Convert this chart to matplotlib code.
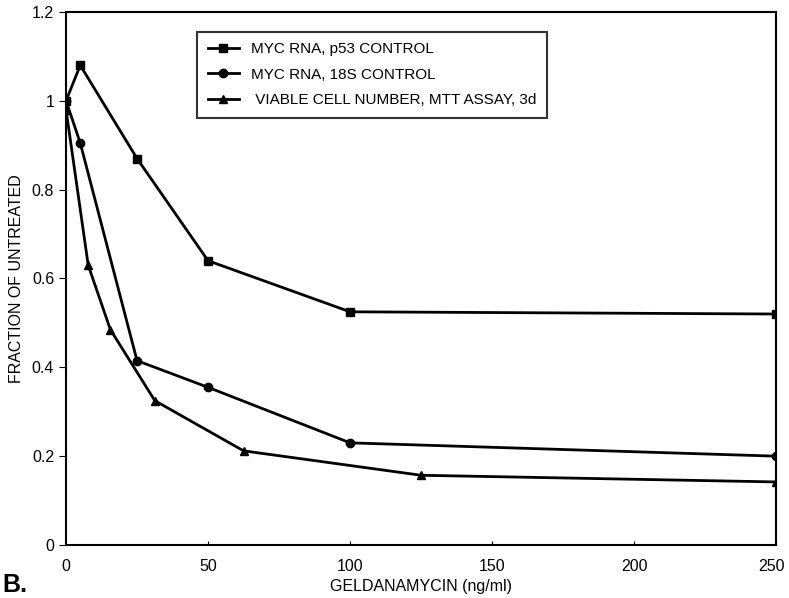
import matplotlib
matplotlib.use("Agg")
from matplotlib import pyplot as plt
from matplotlib import transforms

plt.rcParams['font.family'] = ['Liberation Sans', 'DejaVu Sans']

# data
p53_x = [0, 5, 25, 50, 100, 250]
p53_y = [1.0, 1.08, 0.87, 0.64, 0.525, 0.52]
s18_x = [0, 5, 25, 50, 100, 250]
s18_y = [1.0, 0.905, 0.415, 0.355, 0.23, 0.2]
mtt_x = [0, 7.8, 15.6, 31.25, 62.5, 125, 250]
mtt_y = [0.98, 0.63, 0.485, 0.325, 0.212, 0.157, 0.142]

labels = ["MYC RNA, p53 CONTROL", "MYC RNA, 18S CONTROL",
          " VIABLE CELL NUMBER, MTT ASSAY, 3d"]

fig = plt.figure(figsize=(7.89, 5.98), dpi=100)
ax = fig.add_axes([0.0837, 0.0886, 0.9, 0.8914])

ax.plot(p53_x, p53_y, color='black', lw=2, marker='s', ms=6, label=labels[0])
ax.plot(s18_x, s18_y, color='black', lw=2, marker='o', ms=6, label=labels[1])
ax.plot(mtt_x, mtt_y, color='black', lw=2, marker='^', ms=6, label=labels[2])

ax.set_xlim(0, 250)
ax.set_ylim(0, 1.2)
ax.set_xticks([0, 50, 100, 150, 200, 250])
ax.set_yticks([0, 0.2, 0.4, 0.6, 0.8, 1, 1.2])
ax.set_yticklabels(['0', '0.2', '0.4', '0.6', '0.8', '1', '1.2'])
ax.tick_params(axis='y', direction='out', length=5, labelsize=11.5)
ax.tick_params(axis='x', direction='in', length=3, labelsize=11.5, pad=10)
for s in ax.spines.values():
    s.set_linewidth(1.5)

# keep the last x label inside the canvas
last = ax.get_xticklabels()[-1]
last.set_transform(last.get_transform() +
                   transforms.ScaledTranslation(-5 / 100, 0, fig.dpi_scale_trans))

ax.set_xlabel("GELDANAMYCIN (ng/ml)", fontsize=11.5, labelpad=4)
ax.set_ylabel("FRACTION OF UNTREATED", fontsize=11.5, labelpad=6)

leg = ax.legend(loc='upper left', bbox_to_anchor=(0.185, 0.963), fontsize=11,
                frameon=True, fancybox=False, edgecolor='black',
                handlelength=2.0, labelspacing=0.75, borderpad=0.7,
                borderaxespad=0)
leg.get_frame().set_linewidth(1.5)

fig.text(0.003, 0.01, "B.", fontsize=18, fontweight='bold')

fig.savefig("out.png", dpi=100)
